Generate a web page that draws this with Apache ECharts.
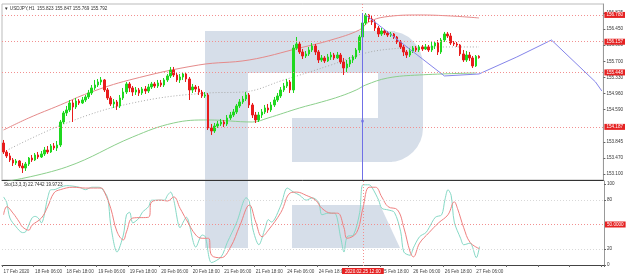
<!DOCTYPE html>
<html><head><meta charset="utf-8">
<script src="https://cdn.jsdelivr.net/npm/echarts@6/dist/echarts.min.js"></script>
<style>html,body{margin:0;padding:0;background:#fff}#c{width:626px;height:275px}</style>
</head><body><div id="c"></div>
<script>
const tickLabels = ["17 Feb 2020","18 Feb 06:00","18 Feb 18:00","19 Feb 06:00","19 Feb 18:00","20 Feb 06:00","20 Feb 18:00","21 Feb 06:00","21 Feb 18:00","24 Feb 06:00","24 Feb 18:00","25 Feb 06:00","25 Feb 18:00","26 Feb 06:00","26 Feb 18:00","27 Feb 06:00"];
const barSlots = 191;
const priceTicks = [153.100,153.470,153.845,154.590,154.960,155.330,155.700,156.080,156.450,156.825];
const stochTicks = [0,20,80,100];
const levels = [156.780,156.157,155.448,154.187];
const lastPrice = 155.792;
// [open, close, low, high]
const candles = [
[153.817,153.609,153.563,153.887],[153.609,153.517,153.470,153.655],[153.517,153.424,153.378,153.586],[153.424,153.355,153.285,153.470],
[153.355,153.401,153.308,153.447],[153.401,153.285,153.239,153.424],[153.285,153.239,153.123,153.355],[153.239,153.331,153.170,153.378],
[153.331,153.470,153.285,153.493],[153.470,153.424,153.378,153.540],[153.424,153.540,153.401,153.586],[153.540,153.493,153.447,153.609],
[153.493,153.563,153.470,153.632],[153.563,153.655,153.517,153.725],[153.655,153.609,153.563,153.748],[153.609,153.748,153.586,153.794],
[153.748,153.702,153.655,153.817],[153.702,153.771,153.632,153.864],[153.771,154.303,153.725,154.350],[154.303,154.512,154.257,154.558],
[154.512,154.581,154.442,154.674],[154.581,154.743,154.535,154.812],[154.743,154.650,154.303,154.812],[154.650,154.789,154.604,154.859],
[154.789,154.743,154.697,154.835],[154.743,154.812,154.720,154.882],[154.812,154.882,154.766,154.928],[154.882,154.974,154.835,155.044],
[154.974,155.090,154.928,155.159],[155.090,155.159,155.044,155.275],[155.159,155.229,155.113,155.298],[155.229,155.275,155.159,155.344],
[155.275,155.044,154.997,155.298],[155.044,154.859,154.812,155.090],[154.859,154.720,154.674,154.905],[154.720,154.766,154.627,154.835],
[154.766,154.674,154.581,154.812],[154.674,154.859,154.627,154.928],[154.859,154.997,154.812,155.090],[154.997,155.183,154.951,155.229],
[155.183,155.090,154.997,155.229],[155.090,154.997,154.905,155.136],[154.997,155.044,154.928,155.113],[155.044,154.974,154.905,155.090],
[154.974,155.067,154.928,155.113],[155.067,155.021,154.951,155.136],[155.021,155.113,154.974,155.183],[155.113,155.183,155.067,155.229],
[155.183,155.136,155.090,155.229],[155.136,155.206,155.090,155.275],[155.206,155.159,155.113,155.275],[155.159,155.275,155.113,155.321],
[155.275,155.368,155.229,155.414],[155.368,155.506,155.321,155.576],[155.506,155.391,155.344,155.576],[155.391,155.275,155.229,155.437],
[155.275,155.344,155.206,155.414],[155.344,155.414,155.275,155.460],[155.414,155.298,155.229,155.460],[155.298,155.044,154.812,155.344],
[155.044,155.113,154.974,155.183],[155.113,155.067,154.997,155.159],[155.067,154.997,154.928,155.136],[154.997,154.905,154.859,155.044],
[154.905,154.928,154.859,154.997],[154.928,154.164,154.118,154.974],[154.164,154.095,154.003,154.257],[154.095,154.211,154.049,154.280],
[154.211,154.257,154.164,154.326],[154.257,154.303,154.211,154.373],[154.303,154.257,154.188,154.350],[154.257,154.396,154.211,154.465],
[154.396,154.465,154.350,154.535],[154.465,154.535,154.419,154.604],[154.535,154.674,154.488,154.720],[154.674,154.766,154.627,154.835],
[154.766,154.835,154.720,154.905],[154.835,154.928,154.789,154.997],[154.928,154.697,154.627,154.974],[154.697,154.465,154.396,154.743],
[154.465,154.350,154.280,154.535],[154.350,154.465,154.303,154.535],[154.465,154.535,154.396,154.604],[154.535,154.627,154.488,154.697],
[154.627,154.581,154.512,154.720],[154.581,154.697,154.535,154.766],[154.697,154.812,154.650,154.882],[154.812,154.905,154.766,154.974],
[154.905,155.044,154.859,155.113],[155.044,155.136,154.997,155.206],[155.136,155.229,155.090,155.298],[155.229,155.044,154.974,155.275],
[155.044,156.015,154.974,156.085],[156.015,156.108,155.969,156.270],[156.108,155.923,155.877,156.154],[155.923,155.830,155.761,155.992],
[155.830,155.877,155.784,155.946],[155.877,155.969,155.830,156.039],[155.969,156.062,155.923,156.131],[156.062,155.923,155.853,156.108],
[155.923,155.738,155.668,155.969],[155.738,155.784,155.692,155.853],[155.784,155.715,155.668,155.830],[155.715,155.807,155.692,155.877],
[155.807,155.853,155.738,155.923],[155.853,155.784,155.738,155.900],[155.784,155.853,155.761,155.923],[155.853,155.692,155.645,155.900],
[155.692,155.553,155.391,155.784],[155.553,155.645,155.460,155.738],[155.645,155.738,155.576,155.807],[155.738,155.807,155.668,155.853],
[155.807,155.969,155.761,156.015],[155.969,156.270,155.900,156.316],[156.270,156.594,156.224,156.640],[156.594,156.779,156.548,156.825],
[156.779,156.686,156.617,156.802],[156.686,156.617,156.548,156.756],[156.617,156.478,156.409,156.663],[156.478,156.339,156.270,156.524],
[156.339,156.409,156.293,156.478],[156.409,156.362,156.316,156.455],[156.362,156.316,156.270,156.409],[156.316,156.339,156.270,156.386],
[156.339,156.270,156.224,156.362],[156.270,156.154,156.108,156.293],[156.154,156.039,155.992,156.200],[156.039,155.923,155.830,156.085],
[155.923,155.853,155.784,155.969],[155.853,155.946,155.807,156.015],[155.946,156.015,155.900,156.062],[156.015,155.969,155.923,156.062],
[155.969,156.039,155.923,156.085],[156.039,155.992,155.946,156.085],[155.992,156.039,155.969,156.108],[156.039,155.969,155.923,156.085],
[155.969,156.062,155.923,156.154],[156.062,156.131,155.992,156.177],[156.131,155.923,155.853,156.200],[155.923,156.200,155.877,156.247],
[156.200,156.339,156.154,156.386],[156.339,156.293,156.247,156.386],[156.293,156.131,156.085,156.362],[156.131,156.108,156.062,156.177],
[156.108,156.085,156.039,156.154],[156.085,155.877,155.830,156.108],[155.877,155.738,155.692,155.969],[155.738,155.853,155.692,155.946],
[155.853,155.784,155.715,155.923],[155.784,155.600,155.553,155.830],[155.600,155.823,155.576,155.853],[155.823,155.792,155.769,155.847]
];
// moving averages: [bar index, price]
const maUpper = [[0,154.118],[8,154.396],[18,154.697],[27,154.974],[40,155.275],[62,155.622],[78,155.738],[94,156.015],[104,156.200],[113,156.432],[116,156.617],[121,156.733],[132,156.779],[142,156.756],[151,156.710]];
const maMiddle = [[0,153.609],[20,154.280],[41,154.743],[65,154.974],[76,154.997],[89,155.275],[104,155.622],[115,155.900],[126,156.015],[132,156.039],[151,156.039]];
const maLower = [[0,152.915],[20,153.262],[41,153.956],[54,154.280],[65,154.350],[79,154.303],[84,154.396],[94,154.627],[101,154.766],[107,154.900],[112,155.044],[115,155.159],[122,155.321],[132,155.391],[150,155.437]];
const projection = [[115,156.779],[140,155.368],[151,155.414],[163,155.807],[174,156.200],[188,155.229],[190,155.021]];
const markerBar = 114;
const markerTop = 156.825;
const markerPrice = 154.326;
// stochastic %K and %D: [bar index, value]
const stochK = [[0,84],[1,77],[2,58],[4,47],[6,40],[7,41],[9,58],[10,60],[11,58],[12,52],[14,83],[15,93],[16,93],[18,96],[20,98],[24,96],[26,93],[28,96],[30,96],[31,95],[33,83],[34,49],[36,16],[38,37],[39,62],[40,65],[41,52],[43,58],[44,65],[46,72],[47,80],[51,80],[52,86],[53,90],[54,80],[56,46],[57,53],[58,59],[61,22],[63,37],[64,35],[66,3],[69,10],[71,28],[74,53],[77,83],[78,78],[79,46],[81,25],[83,46],[84,56],[85,53],[88,74],[90,95],[92,90],[94,86],[96,80],[98,83],[100,77],[101,62],[103,64],[105,64],[107,33],[108,16],[109,35],[111,37],[113,65],[114,99],[116,99],[117,95],[119,80],[120,70],[122,68],[124,65],[126,41],[127,16],[129,12],[130,21],[132,35],[134,40],[135,46],[137,59],[139,62],[140,80],[141,93],[142,86],[143,53],[145,33],[146,25],[148,27],[150,9],[151,22.7442]];
const stochD = [[0,62],[1,72],[3,64],[5,53],[6,47],[8,43],[9,49],[12,58],[14,72],[16,89],[18,93],[22,96],[26,95],[31,95],[32,90],[34,70],[36,41],[38,31],[39,41],[41,58],[46,59],[47,78],[50,80],[52,79],[54,84],[56,70],[58,56],[61,37],[63,33],[65,33],[66,12],[69,9],[72,22],[75,49],[78,74],[80,53],[82,35],[84,43],[88,65],[91,89],[93,90],[96,86],[99,80],[101,70],[104,64],[106,64],[108,46],[109,33],[112,40],[114,70],[116,96],[118,96],[120,84],[122,72],[125,68],[127,46],[129,16],[130,10],[132,27],[135,40],[138,52],[141,62],[143,78],[144,70],[146,46],[148,28],[151,19.9723]];

const categories = Array.from({length: barSlots}, (_, i) => String(i));
const FONT = 'Liberation Sans';
const small = {fontFamily: FONT, fontSize: 4.6, color: '#333'};
const boxLabel = (txt, bg) => ({show: true, position: 'end', distance: 1, formatter: txt, color: '#fff', backgroundColor: bg, fontFamily: FONT, fontSize: 4.6, padding: [1, 2, 0, 2]});
const PMIN = 152.961, PMAX = 157.033;

const chart = echarts.init(document.getElementById('c'), null, {renderer: 'canvas'});
const logo = '#d6dee9';
chart.setOption({
  animation: false,
  backgroundColor: '#fff',
  graphic: [
    {type: 'rect', z: -10, shape: {x: 205, y: 31, width: 43, height: 217}, style: {fill: logo}},
    {type: 'rect', z: -10, shape: {x: 205, y: 31, width: 190, height: 42}, style: {fill: logo}},
    {type: 'rect', z: -10, shape: {x: 292, y: 118, width: 100, height: 44}, style: {fill: logo}},
    {type: 'rect', z: -10, shape: {x: 378, y: 31, width: 45, height: 131, r: [0, 34, 34, 0]}, style: {fill: logo}},
    {type: 'polygon', z: -10, shape: {points: [[292,205],[380,205],[400,248],[292,248]]}, style: {fill: logo}},
    {type: 'text', z: 50, left: 4, top: 6, style: Object.assign({text: '▼ USDJPY,H1  155.823 155.847 155.769 155.792'}, small, {fill: '#333'})},
    {type: 'text', z: 50, left: 4, top: 182, style: Object.assign({text: 'Sto(13,3,3) 22.7442 19.9723'}, small, {fill: '#333'})}
  ],
  grid: [
    {left: 2, top: 4, width: 602, height: 176, show: true, borderColor: '#bbb', borderWidth: 1, backgroundColor: 'transparent'},
    {left: 2, top: 181, width: 602, height: 85}
  ],
  xAxis: [
    {type: 'category', gridIndex: 0, data: categories, boundaryGap: true,
     axisLine: {show: true, lineStyle: {color: '#333', width: 1}}, axisTick: {show: false}, axisLabel: {show: false}, splitLine: {show: false}},
    {type: 'category', gridIndex: 1, data: categories, boundaryGap: true,
     axisLine: {show: true, lineStyle: {color: '#444', width: 1}},
     axisTick: {show: true, length: 2, interval: (i) => i % 10 === 0, lineStyle: {color: '#666'}},
     axisLabel: {show: true, interval: (i) => i % 10 === 0 && i !== 110, formatter: (v, i) => tickLabels[i / 10] || '',
       align: 'left', margin: 3, fontFamily: FONT, fontSize: 4.6, color: '#444'},
     splitLine: {show: false}}
  ],
  yAxis: [
    {type: 'value', gridIndex: 0, position: 'right', min: PMIN, max: PMAX, scale: true,
     axisLine: {show: true, lineStyle: {color: '#999'}},
     axisTick: {show: true, length: 2, customValues: priceTicks, lineStyle: {color: '#666'}},
     axisLabel: {show: true, customValues: priceTicks, formatter: (v) => v.toFixed(3), margin: 3, fontFamily: FONT, fontSize: 4.6, color: '#333'},
     splitLine: {show: false}},
    {type: 'value', gridIndex: 1, position: 'right', min: -1.23, max: 103.7,
     axisLine: {show: true, lineStyle: {color: '#999'}},
     axisTick: {show: true, length: 2, customValues: stochTicks, lineStyle: {color: '#666'}},
     axisLabel: {show: true, customValues: stochTicks, formatter: (v) => String(Math.round(v)), margin: 3, fontFamily: FONT, fontSize: 4.6, color: '#333'},
     splitLine: {show: false}}
  ],
  series: [
    {type: 'line', xAxisIndex: 0, yAxisIndex: 0, data: maUpper, smooth: 0.4, symbol: 'none', lineStyle: {color: '#e58a8a', width: 1}, z: 1},
    {type: 'line', xAxisIndex: 0, yAxisIndex: 0, data: maMiddle, smooth: 0.4, symbol: 'none', lineStyle: {color: '#aaaaaa', width: 1, type: [1, 2]}, z: 1},
    {type: 'line', xAxisIndex: 0, yAxisIndex: 0, data: maLower, smooth: 0.4, symbol: 'none', lineStyle: {color: '#8ccf8c', width: 1}, z: 1},
    {type: 'candlestick', xAxisIndex: 0, yAxisIndex: 0, data: candles, barWidth: 2, z: 3,
     itemStyle: {color: '#1fd81f', color0: '#e81c1c', borderColor: '#1fd81f', borderColor0: '#e81c1c', borderWidth: 1},
     markLine: {symbol: 'none', silent: true, animation: false,
       data: levels.map(v => ({yAxis: v, lineStyle: {color: '#f29090', type: [1, 2], width: 1}, label: boxLabel(v.toFixed(3), '#e52222')}))
         .concat([{yAxis: lastPrice, lineStyle: {opacity: 0}, label: boxLabel(lastPrice.toFixed(3), '#111')}])}},
    {type: 'line', xAxisIndex: 0, yAxisIndex: 0, data: projection, symbol: 'circle', symbolSize: 3, z: 4,
     itemStyle: {color: '#7b7be8'}, lineStyle: {color: '#8585ea', width: 1},
     markLine: {symbol: 'none', silent: true, label: {show: false}, data: [
       [{coord: [markerBar, markerTop], lineStyle: {color: '#7070e6', width: 1, type: 'solid'}}, {coord: [markerBar, PMIN]}],
       [{coord: [markerBar, PMAX], lineStyle: {color: '#f29090', width: 1, type: [1, 2]}}, {coord: [markerBar, markerTop]}]
     ]}},
    {type: 'scatter', xAxisIndex: 0, yAxisIndex: 0, data: [[markerBar, markerPrice]], symbol: 'circle', symbolSize: 3, itemStyle: {color: '#7070e6'}, z: 5},
    {type: 'line', xAxisIndex: 1, yAxisIndex: 1, data: stochK, smooth: 0.3, symbol: 'none', lineStyle: {color: '#86d9c6', width: 1}, z: 3},
    {type: 'line', xAxisIndex: 1, yAxisIndex: 1, data: stochD, smooth: 0.4, symbol: 'none', lineStyle: {color: '#ef8080', width: 1}, z: 3,
     markLine: {symbol: 'none', silent: true, data: [
       {yAxis: 80, lineStyle: {color: '#d8d8d8', type: [1, 2], width: 1}, label: {show: false}},
       {yAxis: 20, lineStyle: {color: '#d8d8d8', type: [1, 2], width: 1}, label: {show: false}},
       {yAxis: 50, lineStyle: {color: '#f29090', type: [1, 2], width: 1}, label: boxLabel('50.0000', '#e52222')},
       {xAxis: markerBar, lineStyle: {color: '#f29090', type: [1, 2], width: 1},
        label: {show: true, position: 'start', distance: 2, formatter: '2020.02.25 12:00', color: '#fff', backgroundColor: '#e52222', fontFamily: FONT, fontSize: 4.6, padding: [1, 3, 0, 3]}}
     ]}}
  ]
});
</script></body></html>
